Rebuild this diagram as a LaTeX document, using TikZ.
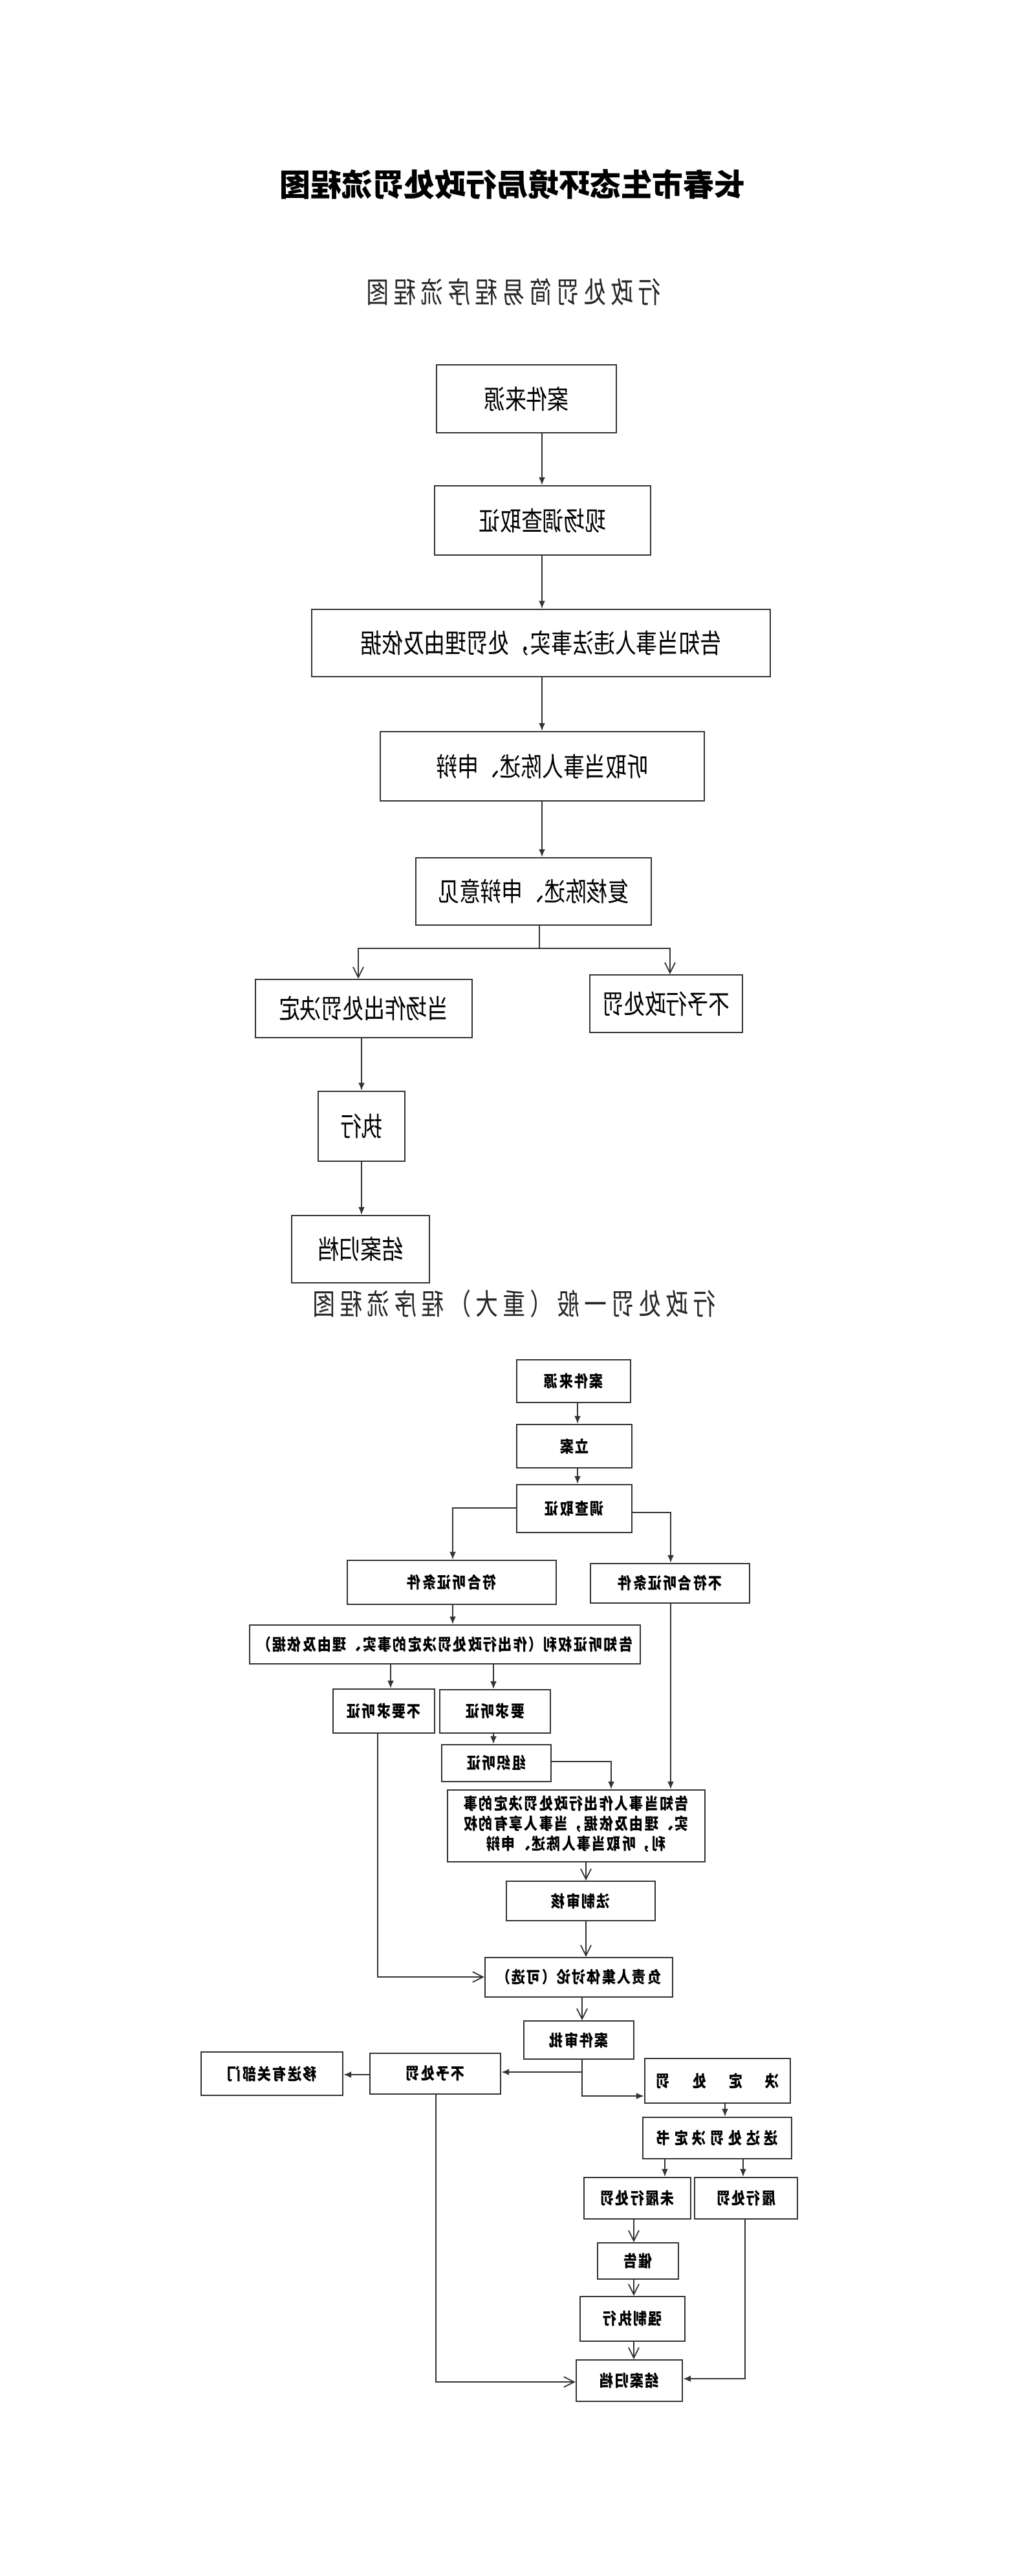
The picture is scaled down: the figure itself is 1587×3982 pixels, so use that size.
\documentclass[tikz,border=0pt]{standalone}
\usepackage{fontspec}
\usepackage{graphicx}
\usetikzlibrary{arrows.meta}
\setmainfont{Noto Sans CJK SC}
\newdimen\lsp
\makeatletter
\def\lspaced#1{\lsp@loop#1\relax}
\def\lsp@loop#1{\ifx\relax#1\else\kern.5\lsp#1\kern.5\lsp\expandafter\lsp@loop\fi}
\makeatother
% mirrored, horizontally scaled, letter-spaced text
\newcommand\T[4]{\scalebox{-#2}[1]{\fontsize{#1}{#1}\selectfont\lsp=#3\relax\lspaced{#4}}}
\newcommand\Bx[6]{\node[bx,minimum width={(#4-#2)*0.5pt},minimum height={(#5-#3)*0.5pt}] (#1) at ({(#2+#4)/2},{(#3+#5)/2}) {#6};}
\newcommand\FA[1]{\T{20.5pt}{0.8}{0pt}{#1}}
\newcommand\FB[1]{{\bfseries\T{12.5pt}{0.85}{1.2pt}{#1}}}
\begin{document}
\begin{tikzpicture}[x=0.5pt,y=-0.5pt,
  bx/.style={draw=black!80,line width=1.2pt,inner sep=0pt,fill=white},
  ln/.style={draw=black!80,line width=0.9pt},
  arF/.style={ln,-{Latex[length=6pt,width=5pt]}},
  arO/.style={ln,-{Straight Barb[length=8pt,width=8pt]}},
  ttl/.style={inner sep=0pt}]
\fill[white] (0,0) rectangle (1587,3982);
\useasboundingbox (0,0) rectangle (1587,3982);

% titles
\node[ttl] (title) at (792,285) {\bfseries\T{24pt}{1.0}{0pt}{长春市生态环境局行政处罚流程图}};
\node[ttl,text=black!85] (sub1) at (794,451) {\T{22.5pt}{0.77}{4.8pt}{行政处罚简易程序流程图}};
\node[ttl,text=black!85] (sub2) at (795,2015) {\T{22.5pt}{0.77}{4.8pt}{行政处罚一般（重大）程序流程图}};

% ---------- flowchart 1 ----------
\Bx{A1}{675}{564}{953}{669}{\FA{案件来源}}
\Bx{A2}{672}{751}{1006}{858}{\FA{现场调查取证}}
\Bx{A3}{482}{942}{1191}{1046}{\FA{告知当事人违法事实，处罚理由及依据}}
\Bx{A4}{588}{1131}{1089}{1238}{\FA{听取当事人陈述、申辩}}
\Bx{A5}{643}{1326}{1007}{1430}{\FA{复核陈述、申辩意见}}
\Bx{A6}{395}{1514}{730}{1604}{\FA{当场作出处罚决定}}
\Bx{A7}{912}{1507}{1148}{1596}{\FA{不予行政处罚}}
\Bx{A8}{492}{1687}{626}{1795}{\FA{执行}}
\Bx{A9}{451}{1879}{664}{1983}{\FA{结案归档}}

\coordinate (cA) at (838,0);
\draw[arF] (A1.south -| cA) -- (A2.north -| cA);
\draw[arF] (A2.south -| cA) -- (A3.north -| cA);
\draw[arF] (A3.south -| cA) -- (A4.north -| cA);
\draw[arF] (A4.south -| cA) -- (A5.north -| cA);
\coordinate (split) at (834,1466);
\coordinate (cL) at (554,0);
\coordinate (cR) at (1036,0);
\draw[ln] (A5.south -| split) -- (split);
\draw[arO] (split) -| (A6.north -| cL);
\draw[arO] (split) -| (A7.north -| cR);
\coordinate (cE) at (559,0);
\draw[arF] (A6.south -| cE) -- (A8.north -| cE);
\draw[arF] (A8.south -| cE) -- (A9.north -| cE);

% ---------- flowchart 2 ----------
\Bx{B1}{799}{2102}{975}{2168}{\FB{案件来源}}
\Bx{B2}{799}{2202}{977}{2269}{\FB{立案}}
\Bx{B3}{799}{2295}{977}{2369}{\FB{调查取证}}
\Bx{B4}{537}{2412}{860}{2480}{\FB{符合听证条件}}
\Bx{B5}{913}{2417}{1159}{2478}{\FB{不符合听证条件}}
\Bx{B6}{386}{2512}{990}{2572}{\FB{告知听证权利（作出行政处罚决定的事实、理由及依据）}}
\Bx{B7}{515}{2611}{672}{2679}{\FB{不要求听证}}
\Bx{B8}{680}{2612}{851}{2679}{\FB{要求听证}}
\Bx{B9}{683}{2697}{852}{2754}{\FB{组织听证}}
\node[bx,minimum width={(1090-692)*0.5pt},minimum height={(2878-2767)*0.5pt},font=\fontsize{12.5pt}{15.5pt}\selectfont] (B10) at ({(692+1090)/2},{(2767+2878)/2})
  {\begin{tabular}{@{}c@{}}\FB{告知当事人作出行政处罚决定的事}\\\FB{实、理由及依据，当事人享有的权}\\\FB{利，听取当事人陈述、申辩}\end{tabular}};
\Bx{B11}{783}{2908}{1013}{2969}{\FB{法制审核}}
\Bx{B12}{750}{3026}{1040}{3087}{\FB{负责人集体讨论（可选）}}
\Bx{B13}{810}{3124}{980}{3183}{\FB{案件审批}}
\Bx{B14}{572}{3174}{774}{3237}{\FB{不予处罚}}
\Bx{B15}{311}{3172}{530}{3239}{\FB{移送有关部门}}
\Bx{B16}{997}{3182}{1222}{3251}{{\bfseries\T{12.5pt}{0.85}{20.5pt}{决定处罚}}}
\Bx{B17}{994}{3273}{1224}{3337}{{\bfseries\T{12.5pt}{0.85}{3.8pt}{送达处罚决定书}}}
\Bx{B18}{903}{3366}{1068}{3430}{\FB{未履行处罚}}
\Bx{B19}{1074}{3366}{1233}{3430}{\FB{履行处罚}}
\Bx{B20}{924}{3467}{1049}{3523}{\FB{催告}}
\Bx{B21}{897}{3550}{1059}{3619}{\FB{强制执行}}
\Bx{B22}{891}{3648}{1055}{3712}{\FB{结案归档}}

\coordinate (c893) at (893,0);
\draw[arF] (B1.south -| c893) -- (B2.north -| c893);
\draw[arF] (B2.south -| c893) -- (B3.north -| c893);
\coordinate (q1) at (0,2331); \coordinate (c700) at (700,0);
\draw[arF] (B3.west |- q1) -| (B4.north -| c700);
\coordinate (q2) at (0,2338); \coordinate (c1037) at (1037,0);
\draw[arF] (B3.east |- q2) -| (B5.north -| c1037);
\draw[arF] (B4.south -| c700) -- (B6.north -| c700);
\coordinate (c604) at (604,0); \coordinate (c763) at (763,0);
\draw[arF] (B6.south -| c604) -- (B7.north -| c604);
\draw[arF] (B6.south -| c763) -- (B8.north -| c763);
\draw[arF] (B8.south -| c763) -- (B9.north -| c763);
\coordinate (c584) at (584,0); \coordinate (q3) at (0,3056);
\draw[arO] (B7.south -| c584) |- (B12.west |- q3);
\draw[arF] (B5.south -| c1037) -- (B10.north -| c1037);
\coordinate (q4) at (0,2723); \coordinate (c945) at (945,0);
\draw[arF] (B9.east |- q4) -| (B10.north -| c945);
\coordinate (c906) at (906,0);
\draw[arO] (B10.south -| c906) -- (B11.north -| c906);
\draw[arO] (B11.south -| c906) -- (B12.north -| c906);
\coordinate (c900) at (900,0);
\draw[arO] (B12.south -| c900) -- (B13.north -| c900);
\coordinate (j1) at (900,3203);
\coordinate (j2) at (900,3240);
\draw[arF] (B13.south -| c900) -- (j1) -- (B14.east |- j1);
\draw[arF] (j1) -- (j2) -- (B16.west |- j2);
\coordinate (q5) at (0,3207);
\draw[arF] (B14.west |- q5) -- (B15.east |- q5);
\coordinate (c674) at (674,0); \coordinate (q6) at (0,3682);
\draw[arO] (B14.south -| c674) |- (B22.west |- q6);
\coordinate (c1121) at (1121,0);
\draw[arF] (B16.south -| c1121) -- (B17.north -| c1121);
\coordinate (c1028) at (1028,0); \coordinate (c1149) at (1149,0);
\draw[arF] (B17.south -| c1028) -- (B18.north -| c1028);
\draw[arF] (B17.south -| c1149) -- (B19.north -| c1149);
\coordinate (c980) at (980,0);
\draw[arO] (B18.south -| c980) -- (B20.north -| c980);
\draw[arO] (B20.south -| c980) -- (B21.north -| c980);
\draw[arO] (B21.south -| c980) -- (B22.north -| c980);
\coordinate (c1152) at (1152,0); \coordinate (q7) at (0,3677);
\draw[arF] (B19.south -| c1152) |- (B22.east |- q7);
\end{tikzpicture}
\end{document}
